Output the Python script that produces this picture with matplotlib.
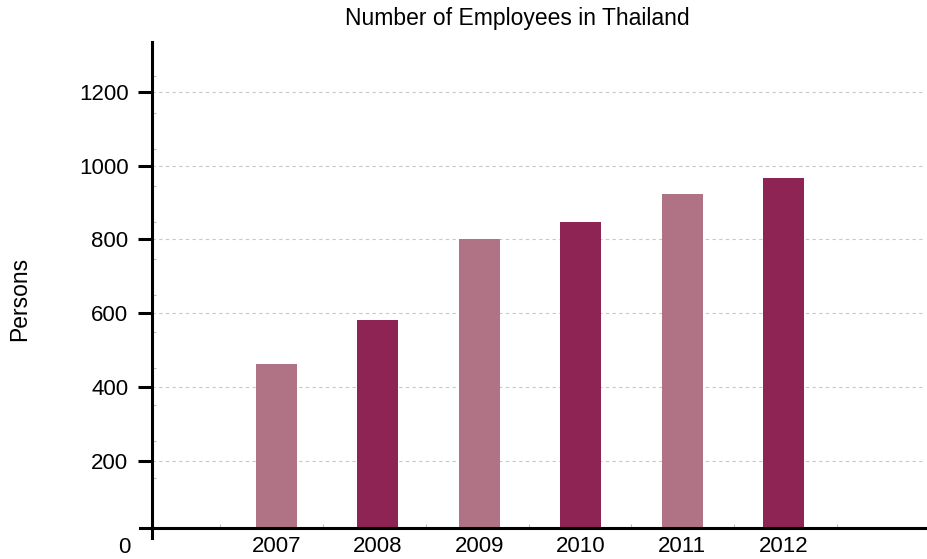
import matplotlib.pyplot as plt
import numpy as np

# Data
years = ['2007', '2008', '2009', '2010', '2011', '2012']
employees = [463, 581, 802, 847, 923, 967]
x_pos = np.arange(len(years))

# Colours
light_color = '#B07386'
dark_color = '#8E2454'
bar_colors = [light_color if i % 2 == 0 else dark_color for i in range(len(years))]
grid_color = '#C8C8C8'
minor_color = '#BDBDBD'

plt.rcParams['font.family'] = ['Liberation Sans', 'DejaVu Sans']

fig = plt.figure(figsize=(9.27, 5.59), dpi=100)
ax = fig.add_axes([152 / 927, 1 - 528 / 559, (925 - 152) / 927, (528 - 42) / 559])

ax.bar(x_pos, employees, width=0.404, color=bar_colors, zorder=2)

ax.set_xlim(-1.228, 6.395)
ax.set_ylim(18, 1335)

# y ticks and dashed grid
ax.set_yticks([200, 400, 600, 800, 1000, 1200])
ax.tick_params(axis='y', which='major', length=10, width=2.2, labelsize=16, pad=7)
ax.yaxis.grid(True, linestyle=(0, (3, 3)), color=grid_color, linewidth=0.8, zorder=0)
ax.set_yticks(np.linspace(154, 1242, 12), minor=True)
ax.tick_params(axis='y', which='minor', direction='in', length=3, width=0.8, color=minor_color)

# x ticks: labels only, plus faint minor marks
ax.set_xticks(x_pos)
ax.set_xticklabels(years)
ax.tick_params(axis='x', which='major', length=0, labelsize=16, pad=6)
ax.set_xticks(np.linspace(-0.557, 5.527, 7), minor=True)
ax.tick_params(axis='x', which='minor', direction='in', length=3, width=0.8, color=minor_color)

# spines
ax.spines['top'].set_visible(False)
ax.spines['right'].set_visible(False)
ax.spines['left'].set_linewidth(2.2)
ax.spines['bottom'].set_linewidth(2.2)
ax.spines['left'].set_bounds(-9, 1335)

# the "0" tick sitting on the x axis
ax.plot([-0.0155, 0], [0, 0], transform=ax.transAxes, color='black', linewidth=2.2, clip_on=False)
ax.text(-0.028, -0.04, '0', transform=ax.transAxes, ha='right', va='center', fontsize=16)

# title is centred on the figure area, not the axes
fig.text(517 / 927, 1 - 19 / 559, 'Number of Employees in Thailand', ha='center', va='center', fontsize=16.5)
fig.text(20 / 927, 1 - 299 / 559, 'Persons', rotation=90, ha='center', va='center', fontsize=16.5)

plt.savefig('out.png', dpi=100)
